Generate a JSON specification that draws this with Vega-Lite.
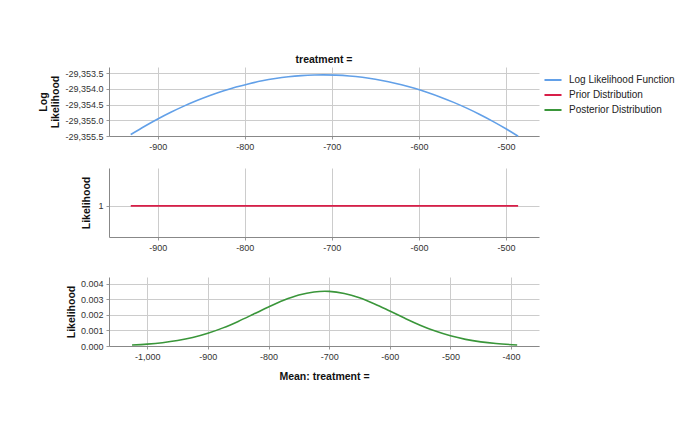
{
  "$schema": "https://vega.github.io/schema/vega-lite/v6.json",
  "background": "white",
  "padding": {"left": 38, "top": 54, "right": 10, "bottom": 10},
  "spacing": 17,
  "config": {
    "font": "Liberation Sans",
    "locale": {"number": {"decimal": ".", "thousands": ",", "grouping": [3], "currency": ["$", ""], "minus": "-"}},
    "view": {"stroke": null},
    "axis": {
      "labelFont": "Liberation Sans", "labelFontSize": 9, "labelColor": "#333",
      "titleFont": "Liberation Sans", "titleFontSize": 10.5, "titleFontWeight": "bold", "titleColor": "#111",
      "gridColor": "#cccccc", "gridWidth": 1, "domainColor": "#888888", "tickColor": "#999999", "tickSize": 3,
      "labelPadding": 3
    },
    "title": {"font": "Liberation Sans", "fontSize": 10.5, "fontWeight": "bold", "color": "#111", "offset": 2}
  },
  "datasets": {
    "ll": [
      {"x": -931, "y": -29355.455}, {"x": -915, "y": -29355.189}, {"x": -900, "y": -29354.958},
      {"x": -885, "y": -29354.744}, {"x": -870, "y": -29354.548}, {"x": -855, "y": -29354.370},
      {"x": -840, "y": -29354.209}, {"x": -825, "y": -29354.066}, {"x": -810, "y": -29353.940},
      {"x": -795, "y": -29353.832}, {"x": -780, "y": -29353.741}, {"x": -765, "y": -29353.668},
      {"x": -750, "y": -29353.612}, {"x": -735, "y": -29353.574}, {"x": -720, "y": -29353.554},
      {"x": -710, "y": -29353.550}, {"x": -695, "y": -29353.559}, {"x": -680, "y": -29353.585},
      {"x": -665, "y": -29353.629}, {"x": -650, "y": -29353.690}, {"x": -635, "y": -29353.769},
      {"x": -620, "y": -29353.866}, {"x": -605, "y": -29353.980}, {"x": -590, "y": -29354.112},
      {"x": -575, "y": -29354.261}, {"x": -560, "y": -29354.428}, {"x": -545, "y": -29354.612},
      {"x": -530, "y": -29354.814}, {"x": -515, "y": -29355.033}, {"x": -500, "y": -29355.270},
      {"x": -486, "y": -29355.507}
    ],
    "prior": [
      {"x": -931, "y": 1}, {"x": -486, "y": 1}
    ],
    "post": [
      {"x": -1025, "y": 0.0000673}, {"x": -1000, "y": 0.000122}, {"x": -975, "y": 0.000212},
      {"x": -950, "y": 0.000350}, {"x": -925, "y": 0.000549}, {"x": -900, "y": 0.000821},
      {"x": -875, "y": 0.001169}, {"x": -850, "y": 0.001586}, {"x": -825, "y": 0.002047},
      {"x": -800, "y": 0.002516}, {"x": -775, "y": 0.002945}, {"x": -750, "y": 0.003284},
      {"x": -725, "y": 0.003486}, {"x": -707, "y": 0.003530}, {"x": -700, "y": 0.003523},
      {"x": -675, "y": 0.003391}, {"x": -650, "y": 0.003109}, {"x": -625, "y": 0.002713},
      {"x": -600, "y": 0.002254}, {"x": -575, "y": 0.001785}, {"x": -550, "y": 0.001345},
      {"x": -525, "y": 0.000965}, {"x": -500, "y": 0.000659}, {"x": -475, "y": 0.000429},
      {"x": -450, "y": 0.000266}, {"x": -425, "y": 0.000157}, {"x": -390, "y": 0.000069}
    ]
  },
  "resolve": {"scale": {"color": "shared"}},
  "vconcat": [
    {
      "width": 430, "height": 69,
      "title": {"text": "treatment =", "anchor": "middle"},
      "data": {"name": "ll"},
      "mark": {"type": "line", "strokeWidth": 1.6, "interpolate": "monotone"},
      "encoding": {
        "x": {"field": "x", "type": "quantitative", "scale": {"domain": [-956, -462], "nice": false, "zero": false},
              "axis": {"title": null, "values": [-900, -800, -700, -600, -500], "format": ",d"}},
        "y": {"field": "y", "type": "quantitative", "scale": {"domain": [-29355.5, -29353.3], "nice": false, "zero": false},
              "axis": {"title": ["Log", "Likelihood"], "values": [-29355.5, -29355.0, -29354.5, -29354.0, -29353.5], "format": ",.1f", "titlePadding": 4}},
        "color": {"datum": "Log Likelihood Function", "type": "nominal",
                  "scale": {"domain": ["Log Likelihood Function", "Prior Distribution", "Posterior Distribution"], "range": ["#62a0e8", "#d81e48", "#3a963a"]},
                  "legend": {"title": null, "orient": "none", "legendX": 434, "legendY": 3, "symbolType": "stroke", "symbolStrokeWidth": 2, "symbolSize": 290, "labelFontSize": 10, "labelFont": "Liberation Sans", "labelColor": "#222", "rowPadding": 0, "labelOffset": 6}}
      }
    },
    {
      "width": 430, "height": 69,
      "data": {"name": "prior"},
      "mark": {"type": "line", "strokeWidth": 1.8},
      "encoding": {
        "x": {"field": "x", "type": "quantitative", "scale": {"domain": [-956, -462], "nice": false, "zero": false},
              "axis": {"title": null, "values": [-900, -800, -700, -600, -500], "format": ",d"}},
        "y": {"field": "y", "type": "quantitative", "scale": {"domain": [0, 2.22], "nice": false},
              "axis": {"title": "Likelihood", "values": [1], "format": "d", "titlePadding": 6}},
        "color": {"datum": "Prior Distribution", "type": "nominal"}
      }
    },
    {
      "width": 430, "height": 69,
      "title": {"text": " ", "fontSize": 8, "offset": 0},
      "data": {"name": "post"},
      "mark": {"type": "line", "strokeWidth": 1.6, "interpolate": "monotone"},
      "encoding": {
        "x": {"field": "x", "type": "quantitative", "scale": {"domain": [-1063, -354], "nice": false, "zero": false},
              "axis": {"title": "Mean: treatment =", "values": [-1000, -900, -800, -700, -600, -500, -400], "format": ",d", "titlePadding": 10}},
        "y": {"field": "y", "type": "quantitative", "scale": {"domain": [0, 0.00445], "nice": false},
              "axis": {"title": "Likelihood", "values": [0, 0.001, 0.002, 0.003, 0.004], "format": ".3f", "titlePadding": 4}},
        "color": {"datum": "Posterior Distribution", "type": "nominal"}
      }
    }
  ]
}
